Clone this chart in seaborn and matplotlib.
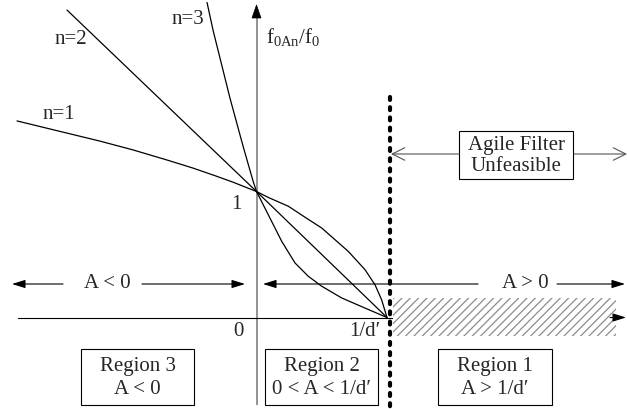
import matplotlib
matplotlib.use("Agg")
import matplotlib.pyplot as plt
from matplotlib.patches import Rectangle, Polygon
import pandas as pd
import seaborn as sns

# Normalised centre frequency f0An/f0 against A*d' for three filter orders
A_N1 = [-1.835, -1.20, -0.946, -0.686, -0.487, -0.303, -0.18, 0.0,
        0.09, 0.244, 0.373, 0.50, 0.703, 0.831, 0.908, 0.959, 1.0]
F_N1 = [1.56, 1.40, 1.33, 1.25, 1.186, 1.12, 1.074, 1.0,
        0.953, 0.883, 0.795, 0.71, 0.525, 0.38, 0.26, 0.14, 0.0]

A_N2 = [-1.452, 0.0, 1.0]
F_N2 = [2.44, 1.0, 0.0]

A_N3 = [-0.379, -0.333, -0.28, -0.203, -0.103, -0.027, 0.0,
        0.09, 0.193, 0.295, 0.397, 0.50, 0.653, 0.831, 1.0]
F_N3 = [2.50, 2.28, 2.06, 1.74, 1.36, 1.085, 1.0,
        0.816, 0.605, 0.433, 0.327, 0.248, 0.155, 0.075, 0.0]

ORDER_LABELS = ["n=1", "n=2", "n=3"]
TICK_LABELS = ["0", "1", "1/d\u2032"]
REGION_TITLES = ["Region 3", "Region 2", "Region 1"]
REGION_RANGES = ["A < 0", "0 < A < 1/d\u2032", "A > 1/d\u2032"]
SIGN_LABELS = ["A < 0", "A > 0"]
Y_LABEL = r"f$_{\mathregular{0An}}$/f$_{\mathregular{0}}$"
NOTE_LINES = ["Agile Filter", "Unfeasible"]

sns.set_theme(style="white")
plt.rcParams["font.family"] = ["Liberation Serif", "DejaVu Serif"]
plt.rcParams["mathtext.fontset"] = "custom"
plt.rcParams["mathtext.rm"] = "Liberation Serif"
plt.rcParams["mathtext.it"] = "Liberation Serif:italic"
plt.rcParams["hatch.linewidth"] = 0.9

W, H = 627, 409
fig = plt.figure(figsize=(W / 100, H / 100), dpi=100)
ax = fig.add_axes([0, 0, 1, 1])

# canvas pixel -> data units (origin at A=0, f=0; 1/d' and f=1 as unit marks)
X0, SX, Y0, SY = 256.5, 130.5, 317.5, 126.0


def P(x, y):
    return ((x - X0) / SX, (Y0 - y) / SY)


ax.set_xlim(P(0, 0)[0], P(W, 0)[0])
ax.set_ylim(P(0, H)[1], P(0, 0)[1])
ax.axis("off")

FS = 15

# curves
df = pd.concat([
    pd.DataFrame({"A": A_N1, "f": F_N1, "n": ORDER_LABELS[0]}),
    pd.DataFrame({"A": A_N2, "f": F_N2, "n": ORDER_LABELS[1]}),
    pd.DataFrame({"A": A_N3, "f": F_N3, "n": ORDER_LABELS[2]}),
], ignore_index=True)
sns.lineplot(data=df, x="A", y="f", hue="n", palette=["black"] * 3,
             sort=False, estimator=None, legend=False, lw=0.9, ax=ax,
             zorder=4)


def arrow(x0, y0, x1, y1, style="-|>,head_length=0.8,head_width=0.25",
          color="black", lw=0.8, ms=10, z=5):
    ax.annotate("", xy=P(x1, y1), xytext=P(x0, y0),
                arrowprops=dict(arrowstyle=style, color=color, lw=lw,
                                shrinkA=0, shrinkB=0, mutation_scale=ms),
                annotation_clip=False, zorder=z)


# vertical axis (grey) with black head
gx = P(256.5, 0)[0]
ax.plot([gx, gx], [P(0, 405)[1], P(0, 14)[1]], color="#808080", lw=1.2,
        zorder=2, solid_capstyle="butt")
ax.add_patch(Polygon([P(252, 18), P(261, 18), P(256.5, 5)], closed=True,
                     facecolor="black", edgecolor="black", lw=0.5, zorder=5))

# horizontal axis
ax.plot([P(18, 0)[0], P(615, 0)[0]], [0, 0], color="black", lw=0.8, zorder=2)
arrow(610, 317.5, 626, 317.5)

# infeasible band beyond 1/d'
x0r, y0r = P(393, 336)
x1r, y1r = P(616, 298)
ax.add_patch(Rectangle((x0r, y0r), x1r - x0r, y1r - y0r, facecolor="white",
                       edgecolor="#8c8c8c", lw=0, hatch="////", zorder=3))

# dotted boundary at A = 1/d'
xd = P(390, 0)[0]
ax.plot([xd, xd], [P(0, 97)[1], P(0, 412)[1]], color="black", lw=3,
        linestyle=(0, (0.7, 1.75)), dash_capstyle="round", zorder=6)

# sign arrows
arrow(63, 284, 12, 284)
arrow(142, 284, 245, 284)
ax.text(*P(107, 284), SIGN_LABELS[0], fontsize=FS, ha="center", va="center")
arrow(478, 284, 263, 284)
arrow(557, 284, 625, 284)
ax.text(*P(525, 284), SIGN_LABELS[1], fontsize=FS, ha="center", va="center")

# note box with arrows
bx0, by0 = P(459, 179)
bx1, by1 = P(573, 131)
ax.add_patch(Rectangle((bx0, by0), bx1 - bx0, by1 - by0, fill=False,
                       edgecolor="black", lw=0.8, zorder=5))
ax.text(*P(516, 145), NOTE_LINES[0], fontsize=FS, ha="center", va="center")
ax.text(*P(516, 166), NOTE_LINES[1], fontsize=FS, ha="center", va="center")
arrow(459, 154, 391, 154, style="->,head_length=0.9,head_width=0.45",
      color="#555555", lw=0.8)
arrow(574, 154, 627, 154, style="->,head_length=0.9,head_width=0.45",
      color="#555555", lw=0.8)

# region boxes
boxes = [(81, 349, 194, 405), (265, 349, 378, 405), (438, 349, 552, 405)]
for (l, t, r, b), title, rng in zip(boxes, REGION_TITLES, REGION_RANGES):
    bx0, by0 = P(l, b)
    bx1, by1 = P(r, t)
    ax.add_patch(Rectangle((bx0, by0), bx1 - bx0, by1 - by0, fill=False,
                           edgecolor="black", lw=0.8, zorder=5))
    cx = (l + r) / 2
    ax.text(*P(cx, 367), title, fontsize=FS, ha="center", va="center")
    ax.text(*P(cx, 389), rng, fontsize=FS, ha="center", va="center")

# tick labels
ax.text(*P(238, 331), TICK_LABELS[0], fontsize=FS, ha="center", va="center")
ax.text(*P(236, 204), TICK_LABELS[1], fontsize=FS, ha="center", va="center")
ax.text(*P(365, 331), TICK_LABELS[2], fontsize=FS, ha="center", va="center")

# axis title and order labels
ax.text(*P(266, 37), Y_LABEL, fontsize=FS, ha="left", va="center")
for (x, y), lab in zip([(59, 114), (71, 39), (188, 20)], ORDER_LABELS):
    ax.text(*P(x, y), lab, fontsize=FS, ha="center", va="center")

fig.savefig("out.png", dpi=100)
